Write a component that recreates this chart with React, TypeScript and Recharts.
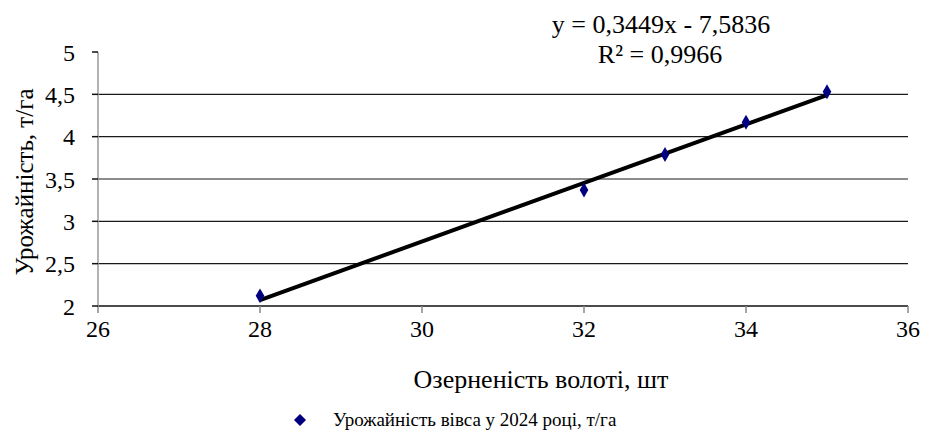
import {
  ComposedChart,
  Customized,
  Label,
  Legend,
  Line,
  ReferenceLine,
  Scatter,
  XAxis,
  YAxis,
} from 'recharts'

// values
const grainCount = [28, 32, 33, 34, 35]
const yieldTons = [2.12, 3.37, 3.79, 4.17, 4.53]

// trendline ends (y = 0,3449x - 7,5836)
const trendX = [28, 35]
const trendY = [2.07, 4.49]

const xTicks = [26, 28, 30, 32, 34, 36]
const yTicks = [2, 2.5, 3, 3.5, 4, 4.5, 5]
const gridValues = [2.5, 3, 3.5, 4, 4.5]

const equationText = 'y = 0,3449x - 7,5836'
const r2Text = 'R² = 0,9966'
const seriesName = 'Урожайність вівса у 2024 році, т/га'
const xTitle = 'Озерненість волоті, шт'
const yTitle = 'Урожайність, т/га'

const points = grainCount.map((x, i) => ({ x, y: yieldTons[i] }))
const trend = trendX.map((x, i) => ({ x, t: trendY[i] }))

// set once on the wrapper, inherited by the svg
const font = '"Liberation Serif"'
const navy = '#000080'
const tickStyle = { fill: '#000', fontSize: 24 }

const comma = (v: number) => String(v).replace('.', ',')

function LegendBox() {
  return (
    <div
      style={{
        display: 'flex',
        alignItems: 'center',
        height: 40,
        paddingLeft: 292,
        fontSize: 19,
        color: '#000',
      }}
    >
      <svg width={16} height={16} style={{ marginRight: 25 }}>
        <polygon points="8,2 14,8 8,14 2,8" fill={navy} />
      </svg>
      <span>{seriesName}</span>
    </div>
  )
}

function Titles() {
  return (
    <g style={{ fontFamily: font }}>
      <text x={661} y={33} textAnchor="middle" fontSize={26} fill="#000">
        {equationText}
      </text>
      <text x={660} y={63} textAnchor="middle" fontSize={26} fill="#000">
        {r2Text}
      </text>
      <text
        x={33}
        y={182}
        textAnchor="middle"
        transform="rotate(-90 33 182)"
        fontSize={25}
        fill="#000"
      >
        {yTitle}
      </text>
    </g>
  )
}

export default function App() {
  return (
    <div
      style={{
        position: 'absolute',
        left: 0,
        top: 0,
        background: '#fff',
        fontFamily: font,
      }}
    >
      <ComposedChart
        width={928}
        height={440}
        margin={{ top: 52, right: 20, left: 0, bottom: 0 }}
        style={{ fontFamily: font }}
      >
        {gridValues.map((v) => (
          <ReferenceLine key={v} y={v} stroke="#1a1a1a" strokeWidth={1.2} />
        ))}
        <XAxis
          type="number"
          dataKey="x"
          domain={[26, 36]}
          ticks={xTicks}
          allowDataOverflow
          height={94}
          tickSize={7}
          tickMargin={7}
          stroke="#111"
          strokeWidth={1.5}
          tick={tickStyle}
          tickLine={{ stroke: '#888' }}
        >
          <Label
            value={xTitle}
            position="insideBottom"
            offset={12}
            dx={38}
            fill="#000"
            fontSize={26}
          />
        </XAxis>
        <YAxis
          type="number"
          domain={[2, 5]}
          ticks={yTicks}
          width={98}
          tickSize={6}
          tickMargin={17}
          tickFormatter={comma}
          stroke="#999"
          strokeWidth={1.5}
          tick={tickStyle}
          tickLine={{ stroke: '#111' }}
        />
        <Line
          data={trend}
          dataKey="t"
          stroke="#000"
          strokeWidth={4}
          dot={false}
          activeDot={false}
          legendType="none"
          isAnimationActive={false}
        />
        <Scatter
          name={seriesName}
          data={points}
          dataKey="y"
          fill={navy}
          shape="diamond"
          legendType="diamond"
          isAnimationActive={false}
        />
        <Legend verticalAlign="bottom" height={40} content={<LegendBox />} />
        <Customized component={Titles} />
      </ComposedChart>
    </div>
  )
}
